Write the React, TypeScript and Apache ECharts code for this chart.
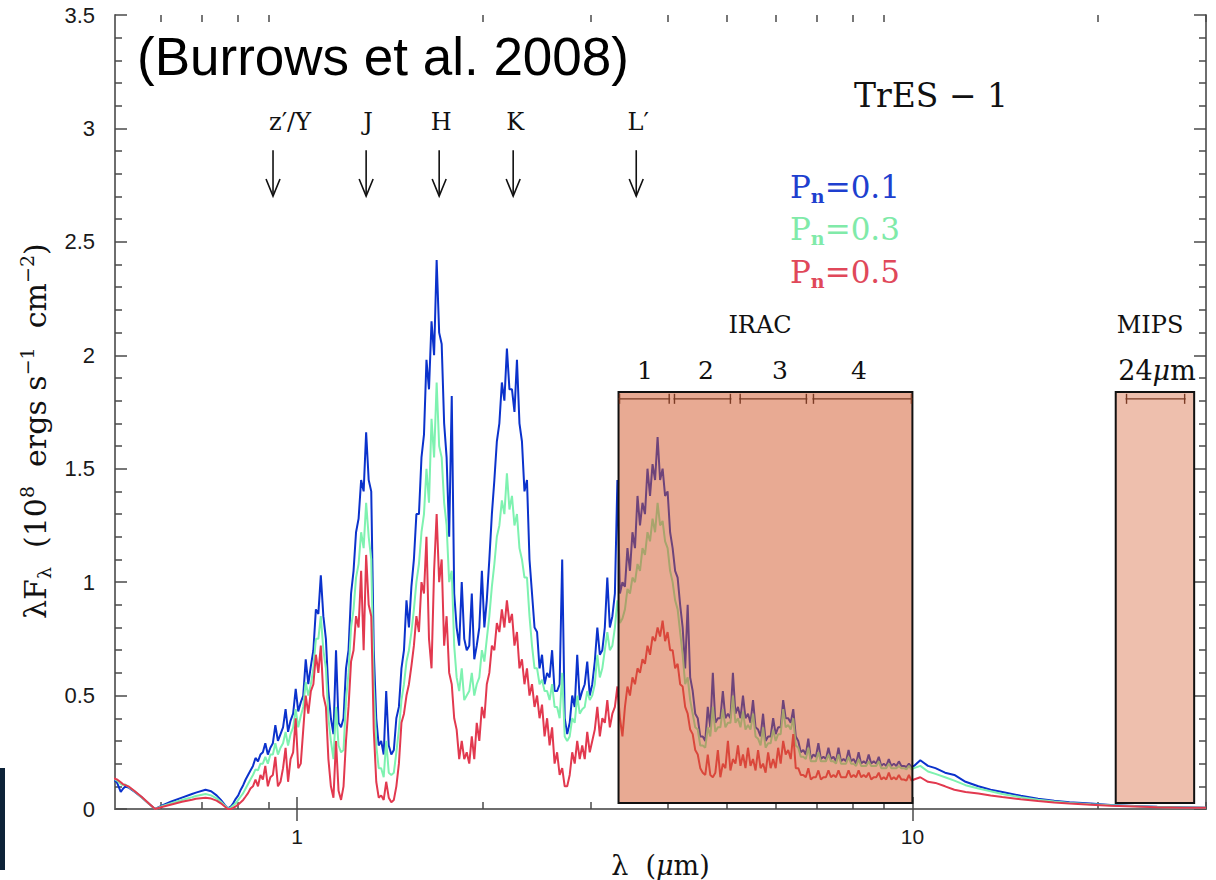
import React, { useEffect, useRef } from "react";
import * as echarts from "echarts";

// ---------------- data ----------------
// wavelength samples in micrometres
const wavelengthUm = [
  0.5, 0.51, 0.517, 0.521, 0.526, 0.532, 0.545, 0.56, 0.575, 0.588,
  0.605, 0.625, 0.65, 0.675, 0.685, 0.71, 0.725, 0.74, 0.752, 0.763, 0.772,
  0.780, 0.795, 0.810, 0.825, 0.840, 0.856, 0.872, 0.888, 0.905, 0.922,
  0.940, 0.958, 0.976, 0.995, 1.014, 1.033, 1.053, 1.073, 1.093, 1.114,
  1.135, 1.157, 1.179, 1.201, 1.224, 1.247, 1.271, 1.295, 1.320, 1.345,
  1.370, 1.396, 1.423, 1.450, 1.478, 1.506, 1.534, 1.563, 1.593, 1.623,
  1.654, 1.686, 1.718, 1.750, 1.784, 1.817, 1.852, 1.887, 1.923, 1.959,
  1.997, 2.034, 2.073, 2.112, 2.152, 2.193, 2.235, 2.277, 2.320, 2.364,
  2.409, 2.455, 2.501, 2.549, 2.597, 2.646, 2.697, 2.748, 2.800, 2.853,
  2.907, 2.962, 3.018, 3.076, 3.134, 3.193, 3.254, 3.316, 3.379, 3.443,
  3.508, 3.575, 3.642, 3.711, 3.782, 3.854, 3.927, 4.001, 4.077, 4.154,
  4.233, 4.313, 4.395, 4.479, 4.564, 4.650, 4.739, 4.829, 4.920, 5.014,
  5.109, 5.206, 5.305, 5.405, 5.508, 5.613, 5.719, 5.828, 5.939, 6.051,
  6.166, 6.283, 6.403, 6.524, 6.648, 6.774, 6.903, 7.034, 7.168, 7.304,
  7.443, 7.584, 7.728, 7.875, 8.025, 8.177, 8.333, 8.491, 8.652, 8.817,
  8.984, 9.155, 9.329, 9.506, 9.687, 9.871, 10.06,
  10.3, 10.6, 10.9, 11.3, 11.7, 12.2, 12.8, 13.4, 14.0, 15.0,
  16.0, 17.0, 18.0, 19.5, 21.0, 23.0, 25.0, 27.5, 30.0,
];
// index where the noisy part (0.780 .. 10.06) starts in wavelengthUm
const noisyStart = 21;

// lambda F_lambda (1e8 ergs s^-1 cm^-2), Pn = 0.1 : samples
const fluxPn01 = [
  0.14, 0.115, 0.075, 0.088, 0.1, 0.095, 0.075, 0.05, 0.022, 0.0,
  0.017, 0.033, 0.05, 0.066, 0.072, 0.085, 0.078, 0.06, 0.04, 0.018, 0.003,
  0.01, 0.045, 0.085, 0.13, 0.17, 0.225, 0.24, 0.29, 0.27, 0.37,
  0.33, 0.44, 0.39, 0.53, 0.47, 0.66, 0.63, 0.88, 1.03, 0.75,
  0.40, 0.70, 0.36, 0.62, 0.95, 1.22, 1.45, 1.66, 1.40, 0.40,
  0.30, 0.52, 0.24, 0.40, 0.62, 0.92, 0.98, 1.30, 1.55, 1.98,
  2.15, 2.42, 2.05, 1.55, 1.82, 0.80, 1.00, 0.70, 0.95, 0.72,
  1.05, 0.92, 1.30, 1.62, 1.88, 2.03, 1.85, 1.98, 1.62, 1.45,
  0.95, 0.78, 0.68, 0.60, 0.70, 0.52, 1.10, 0.33, 0.50, 0.68,
  0.52, 0.65, 0.55, 0.80, 0.70, 1.02, 0.85, 1.45, 1.00, 1.15,
  1.22, 1.38, 1.35, 1.50, 1.52, 1.64, 1.50, 1.40, 1.15, 1.02,
  0.80, 0.90, 0.52, 0.40, 0.32, 0.45, 0.60, 0.40, 0.52, 0.42,
  0.60, 0.45, 0.50, 0.42, 0.48, 0.35, 0.42, 0.32, 0.40, 0.36,
  0.48, 0.40, 0.44, 0.30, 0.26, 0.31, 0.24, 0.29, 0.23, 0.27,
  0.23, 0.27, 0.22, 0.26, 0.22, 0.25, 0.21, 0.24, 0.21, 0.23,
  0.20, 0.22, 0.20, 0.21, 0.19, 0.20, 0.19,
  0.215, 0.19, 0.18, 0.16, 0.15, 0.12, 0.10, 0.085, 0.075, 0.058,
  0.045, 0.036, 0.03, 0.024, 0.018, 0.013, 0.01, 0.008, 0.006,
];
// Pn = 0.1 : noise minima between consecutive noisy samples
const dipsPn01 = [
  0.025, 0.06, 0.105, 0.15, 0.19, 0.21, 0.25, 0.24, 0.29, 0.30,
  0.36, 0.34, 0.42, 0.43, 0.50, 0.55, 0.70, 0.86, 0.85, 0.52,
  0.33, 0.38, 0.40, 0.70, 1.05, 1.28, 1.40, 1.45, 0.70, 0.28,
  0.24, 0.28, 0.26, 0.45, 0.70, 0.80, 1.10, 1.30, 1.65, 1.85,
  2.00, 2.10, 1.70, 1.20, 0.95, 0.72, 0.75, 0.72, 0.66, 0.80,
  0.80, 1.10, 1.45, 1.70, 1.80, 1.85, 1.75, 1.70, 1.40, 1.10,
  0.80, 0.62, 0.55, 0.58, 0.52, 0.55, 0.40, 0.38, 0.45, 0.48,
  0.55, 0.50, 0.65, 0.68, 0.80, 0.80, 0.95, 0.95, 0.98, 1.05,
  1.15, 1.25, 1.30, 1.38, 1.45, 1.45, 1.38, 1.22, 1.05, 0.90,
  0.62, 0.58, 0.42, 0.32, 0.30, 0.36, 0.38, 0.40, 0.40, 0.40,
  0.42, 0.40, 0.40, 0.38, 0.36, 0.32, 0.30, 0.32, 0.33, 0.36,
  0.40, 0.38, 0.32, 0.25, 0.24, 0.22, 0.23, 0.22, 0.22, 0.22,
  0.21, 0.21, 0.21, 0.21, 0.20, 0.20, 0.20, 0.20, 0.20, 0.19,
  0.19, 0.19, 0.19, 0.19, 0.185, 0.185,
];

// Pn = 0.3 : samples
const fluxPn03 = [
  0.138, 0.125, 0.11, 0.105, 0.108, 0.098, 0.077, 0.05, 0.022, 0.0,
  0.013, 0.026, 0.04, 0.052, 0.057, 0.066, 0.06, 0.047, 0.032, 0.015, 0.002,
  0.005, 0.025, 0.055, 0.09, 0.13, 0.175, 0.20, 0.23, 0.24, 0.29,
  0.27, 0.34, 0.33, 0.44, 0.41, 0.56, 0.55, 0.75, 0.85, 0.62,
  0.30, 0.45, 0.25, 0.48, 0.80, 1.02, 1.22, 1.35, 1.10, 0.28,
  0.18, 0.30, 0.15, 0.25, 0.48, 0.65, 0.78, 1.00, 1.22, 1.50,
  1.72, 1.88, 1.55, 1.25, 1.05, 0.58, 0.62, 0.50, 0.60, 0.55,
  0.70, 0.75, 0.98, 1.20, 1.36, 1.48, 1.38, 1.30, 1.10, 1.02,
  0.72, 0.62, 0.57, 0.52, 0.55, 0.45, 0.60, 0.30, 0.40, 0.50,
  0.44, 0.52, 0.50, 0.68, 0.62, 0.78, 0.72, 0.92, 0.84, 0.97,
  1.02, 1.08, 1.15, 1.22, 1.28, 1.35, 1.27, 1.15, 1.00, 0.88,
  0.68, 0.58, 0.42, 0.35, 0.28, 0.36, 0.45, 0.36, 0.44, 0.38,
  0.50, 0.40, 0.43, 0.37, 0.42, 0.31, 0.36, 0.29, 0.35, 0.33,
  0.44, 0.37, 0.40, 0.27, 0.23, 0.27, 0.21, 0.25, 0.21, 0.24,
  0.21, 0.24, 0.20, 0.23, 0.20, 0.22, 0.19, 0.21, 0.19, 0.21,
  0.18, 0.20, 0.18, 0.19, 0.18, 0.19, 0.18,
  0.19, 0.165, 0.155, 0.14, 0.125, 0.105, 0.09, 0.078, 0.066, 0.052,
  0.041, 0.033, 0.027, 0.021, 0.016, 0.012, 0.009, 0.007, 0.005,
];
// Pn = 0.3 : noise minima
const dipsPn03 = [
  0.015, 0.04, 0.07, 0.11, 0.15, 0.17, 0.20, 0.20, 0.24, 0.24,
  0.29, 0.28, 0.36, 0.36, 0.45, 0.50, 0.62, 0.75, 0.70, 0.40,
  0.22, 0.28, 0.26, 0.60, 0.88, 1.08, 1.15, 1.20, 0.55, 0.18,
  0.14, 0.16, 0.16, 0.35, 0.55, 0.70, 0.88, 1.08, 1.30, 1.35,
  1.55, 1.60, 1.35, 1.00, 0.72, 0.52, 0.48, 0.52, 0.50, 0.58,
  0.65, 0.85, 1.08, 1.25, 1.30, 1.32, 1.25, 1.15, 1.02, 0.85,
  0.62, 0.55, 0.52, 0.48, 0.45, 0.40, 0.32, 0.32, 0.38, 0.42,
  0.45, 0.48, 0.55, 0.58, 0.70, 0.70, 0.80, 0.82, 0.88, 0.95,
  1.00, 1.05, 1.12, 1.18, 1.22, 1.25, 1.18, 1.05, 0.92, 0.78,
  0.55, 0.48, 0.36, 0.28, 0.27, 0.32, 0.34, 0.36, 0.36, 0.38,
  0.38, 0.36, 0.35, 0.35, 0.32, 0.28, 0.27, 0.29, 0.30, 0.33,
  0.36, 0.35, 0.28, 0.23, 0.22, 0.21, 0.21, 0.21, 0.21, 0.21,
  0.20, 0.20, 0.20, 0.20, 0.19, 0.19, 0.19, 0.19, 0.19, 0.18,
  0.18, 0.18, 0.18, 0.18, 0.175, 0.175,
];

// Pn = 0.5 : samples
const fluxPn05 = [
  0.137, 0.13, 0.118, 0.11, 0.105, 0.1, 0.078, 0.052, 0.023, 0.0,
  0.01, 0.02, 0.032, 0.041, 0.045, 0.05, 0.046, 0.037, 0.025, 0.011, 0.0,
  0.0, 0.012, 0.03, 0.055, 0.09, 0.13, 0.15, 0.19, 0.14, 0.23,
  0.12, 0.27, 0.22, 0.40, 0.20, 0.50, 0.52, 0.68, 0.72, 0.45,
  0.10, 0.30, 0.04, 0.30, 0.65, 0.85, 1.05, 1.12, 0.85, 0.12,
  0.06, 0.12, 0.03, 0.10, 0.38, 0.50, 0.63, 0.85, 1.00, 1.20,
  0.62, 1.30, 1.10, 0.85, 0.55, 0.35, 0.30, 0.25, 0.32, 0.38,
  0.45, 0.55, 0.72, 0.82, 0.88, 0.92, 0.86, 0.78, 0.66, 0.62,
  0.55, 0.50, 0.46, 0.40, 0.36, 0.25, 0.18, 0.10, 0.25, 0.30,
  0.28, 0.34, 0.30, 0.45, 0.40, 0.48, 0.42, 0.54, 0.32, 0.54,
  0.58, 0.62, 0.66, 0.72, 0.76, 0.80, 0.83, 0.78, 0.70, 0.64,
  0.54, 0.42, 0.33, 0.24, 0.16, 0.24, 0.14, 0.26, 0.20, 0.30,
  0.22, 0.28, 0.24, 0.27, 0.22, 0.26, 0.20, 0.25, 0.22, 0.27,
  0.30, 0.26, 0.33, 0.18, 0.15, 0.18, 0.14, 0.17, 0.14, 0.17,
  0.15, 0.17, 0.14, 0.17, 0.15, 0.17, 0.15, 0.16, 0.14, 0.16,
  0.14, 0.16, 0.14, 0.15, 0.13, 0.15, 0.13,
  0.14, 0.12, 0.115, 0.10, 0.085, 0.075, 0.068, 0.06, 0.053, 0.043,
  0.035, 0.029, 0.024, 0.019, 0.014, 0.011, 0.008, 0.006, 0.005,
];
// Pn = 0.5 : noise minima
const dipsPn05 = [
  0.005, 0.02, 0.04, 0.07, 0.10, 0.10, 0.13, 0.10, 0.15, 0.10,
  0.18, 0.12, 0.25, 0.18, 0.35, 0.42, 0.55, 0.60, 0.50, 0.22,
  0.05, 0.08, 0.10, 0.45, 0.70, 0.80, 0.70, 0.90, 0.35, 0.05,
  0.04, 0.05, 0.04, 0.20, 0.42, 0.55, 0.72, 0.78, 0.95, 0.75,
  1.05, 1.00, 0.72, 0.60, 0.40, 0.22, 0.22, 0.20, 0.22, 0.30,
  0.40, 0.60, 0.70, 0.78, 0.80, 0.82, 0.72, 0.62, 0.55, 0.50,
  0.45, 0.40, 0.32, 0.28, 0.20, 0.15, 0.10, 0.15, 0.20, 0.22,
  0.22, 0.25, 0.35, 0.32, 0.38, 0.36, 0.45, 0.40, 0.45, 0.50,
  0.55, 0.60, 0.64, 0.68, 0.74, 0.76, 0.74, 0.70, 0.62, 0.55,
  0.45, 0.35, 0.26, 0.18, 0.15, 0.15, 0.16, 0.14, 0.18, 0.17,
  0.20, 0.19, 0.18, 0.19, 0.17, 0.18, 0.16, 0.18, 0.18, 0.20,
  0.24, 0.22, 0.18, 0.15, 0.14, 0.13, 0.14, 0.13, 0.14, 0.14,
  0.14, 0.14, 0.14, 0.14, 0.14, 0.14, 0.14, 0.13, 0.14, 0.13,
  0.13, 0.13, 0.13, 0.13, 0.125, 0.125,
];

const seriesNames = ["Pn=0.1", "Pn=0.3", "Pn=0.5"];
const legendValues = ["0.1", "0.3", "0.5"];

// photometric bands marked with arrows
const bandNames = ["z′/Y", "J", "H", "K", "L′"];
const bandWavelengths = [0.914, 1.295, 1.702, 2.245, 3.558];

// Spitzer filter boxes (micrometres) and their flux extent
const iracRange = [3.33, 10.0];
const mipsRange = [21.4, 28.7];
const filterBoxFlux = [0.026, 1.838];
// IRAC channel bars and MIPS 24 micron bar
const iracChannels = [
  [3.33, 4.04],
  [4.09, 5.08],
  [5.23, 6.75],
  [6.88, 10.0],
];
const mipsChannel = [22.2, 27.8];
const iracChannelLabels = ["1", "2", "3", "4"];

// axis ticks
const xMajorTicks = [1, 10];
const xMinorTicks = [0.6, 0.7, 0.8, 0.9, 2, 3, 4, 5, 6, 7, 8, 9, 20, 30];

// ---------------- styling ----------------
const serif = "'DejaVu Serif', 'Liberation Serif', serif";
const sans = "'Liberation Sans', Arial, sans-serif";
const lineColors = ["#0b32cc", "#7ef2b0", "#e2394f"];
const textColors = ["#1e3fcf", "#80eaa9", "#e0485a"];
const frameColor = "#6e6e6e";
const tickColor = "#4a4a4a";

function buildLine(vals: number[], dips: number[]) {
  const out: number[][] = [];
  for (let i = 0; i < wavelengthUm.length; i++) {
    out.push([wavelengthUm[i], vals[i]]);
    const k = i - noisyStart;
    if (k >= 0 && k < dips.length) {
      out.push([Math.sqrt(wavelengthUm[i] * wavelengthUm[i + 1]), dips[k]]);
    }
  }
  return out;
}

function buildOption() {
  const xCommon = {
    type: "log",
    logBase: 10,
    min: 0.506,
    max: 30,
    splitLine: { show: false },
    minorSplitLine: { show: false },
  };
  const yCommon = {
    type: "value",
    min: 0,
    max: 3.5,
    interval: 0.5,
    splitLine: { show: false },
  };

  const sets = [
    [fluxPn01, dipsPn01],
    [fluxPn03, dipsPn03],
    [fluxPn05, dipsPn05],
  ];
  const lineSeries = sets.map(([vals, dips], s) => ({
    name: seriesNames[s],
    type: "line",
    xAxisIndex: 0,
    yAxisIndex: 0,
    z: 2 + s,
    showSymbol: false,
    symbol: "none",
    silent: true,
    data: buildLine(vals, dips),
    lineStyle: { color: lineColors[s], width: 2 },
  }));

  const boxSeries = {
    type: "custom",
    xAxisIndex: 0,
    yAxisIndex: 0,
    z: 10,
    silent: true,
    clip: false,
    data: [
      [iracRange[0], iracRange[1], filterBoxFlux[0], filterBoxFlux[1]],
      [mipsRange[0], mipsRange[1], filterBoxFlux[0], filterBoxFlux[1]],
    ],
    encode: { x: [0, 1], y: [2, 3] },
    renderItem: (params: any, api: any) => {
      const a = api.coord([api.value(0), api.value(3)]);
      const b = api.coord([api.value(1), api.value(2)]);
      return {
        type: "rect",
        shape: { x: a[0], y: a[1], width: b[0] - a[0], height: b[1] - a[1] },
        style: {
          fill: params.dataIndex === 0 ? "rgba(210,86,40,0.5)" : "rgba(210,86,40,0.38)",
          stroke: "#111",
          lineWidth: 2,
        },
      };
    },
  };

  const channelData = [...iracChannels, mipsChannel];
  const channelSeries = {
    type: "custom",
    xAxisIndex: 0,
    yAxisIndex: 0,
    z: 11,
    silent: true,
    clip: false,
    data: channelData.map((c) => [c[0], c[1]]),
    encode: { x: [0, 1] },
    renderItem: (params: any, api: any) => {
      const yVal = 1.808;
      const a = api.coord([api.value(0), yVal]);
      const b = api.coord([api.value(1), yVal]);
      const st = { stroke: "#7a3b25", lineWidth: 1.4 };
      return {
        type: "group",
        children: [
          { type: "line", shape: { x1: a[0], y1: a[1], x2: b[0], y2: b[1] }, style: st },
          { type: "line", shape: { x1: a[0] + 1, y1: a[1] - 5, x2: a[0] + 1, y2: a[1] + 5 }, style: st },
          { type: "line", shape: { x1: b[0] - 1, y1: b[1] - 5, x2: b[0] - 1, y2: b[1] + 5 }, style: st },
        ],
      };
    },
  };

  const arrowSeries = {
    type: "custom",
    xAxisIndex: 0,
    yAxisIndex: 0,
    z: 11,
    silent: true,
    clip: false,
    data: bandWavelengths.map((w, i) => [w, i]),
    encode: { x: 0 },
    renderItem: (params: any, api: any) => {
      const w = api.value(0);
      const idx = params.dataIndex;
      const top = api.coord([w, 2.904]);
      const bot = api.coord([w, 2.702]);
      const lab = api.coord([w, 3.028]);
      const x = top[0];
      const dx = idx === 0 ? 17 : 2;
      const st = { stroke: "#111", lineWidth: 1.6, fill: null };
      return {
        type: "group",
        children: [
          { type: "line", shape: { x1: x, y1: top[1], x2: x, y2: bot[1] }, style: st },
          {
            type: "polyline",
            shape: { points: [[x - 7, bot[1] - 17], [x, bot[1]], [x + 7, bot[1] - 17]] },
            style: st,
          },
          {
            type: "text",
            x: x + dx,
            y: lab[1],
            style: {
              text: bandNames[idx],
              fontFamily: serif,
              fontSize: 24,
              fill: "#111",
              align: "center",
              verticalAlign: "middle",
            },
          },
        ],
      };
    },
  };

  const graphicTexts: any[] = [
    {
      type: "text",
      x: 137,
      y: 56,
      style: {
        text: "(Burrows et al. 2008)",
        fontFamily: sans,
        fontSize: 53,
        fill: "#000",
        align: "left",
        verticalAlign: "middle",
      },
    },
    {
      type: "text",
      x: 931,
      y: 95,
      style: {
        text: "TrES − 1",
        fontFamily: serif,
        fontSize: 33,
        fill: "#111",
        align: "center",
        verticalAlign: "middle",
      },
    },
    {
      type: "text",
      x: 760,
      y: 325,
      style: { text: "IRAC", fontFamily: serif, fontSize: 24, fill: "#111", align: "center", verticalAlign: "middle" },
    },
    {
      type: "text",
      x: 1150,
      y: 325,
      style: { text: "MIPS", fontFamily: serif, fontSize: 24, fill: "#111", align: "center", verticalAlign: "middle" },
    },
    {
      type: "text",
      x: 1157,
      y: 370,
      style: {
        text: "{a|24}{i|μ}{a|m}",
        fill: "#111",
        align: "center",
        verticalAlign: "middle",
        rich: {
          a: { fontFamily: serif, fontSize: 27, fill: "#111" },
          i: { fontFamily: serif, fontSize: 27, fontStyle: "italic", fill: "#111" },
        },
      },
    },
    { type: "rect", shape: { x: 0, y: 768, width: 5, height: 102 }, style: { fill: "#0d2238" } },
  ];
  const channelLabelX = [645, 706, 780, 859];
  iracChannelLabels.forEach((t, i) => {
    graphicTexts.push({
      type: "text",
      x: channelLabelX[i],
      y: 370,
      style: { text: t, fontFamily: serif, fontSize: 25, fill: "#111", align: "center", verticalAlign: "middle" },
    });
  });
  const legendY = [187, 229, 272];
  legendValues.forEach((v, i) => {
    graphicTexts.push({
      type: "text",
      x: 790,
      y: legendY[i],
      style: {
        text: `{a|P}{s|n}{a|=${v}}`,
        align: "left",
        verticalAlign: "middle",
        rich: {
          a: { fontFamily: serif, fontSize: 31, fill: textColors[i], lineHeight: 36 },
          s: {
            fontFamily: serif,
            fontSize: 19,
            fontWeight: "bold",
            fill: textColors[i],
            lineHeight: 19,
            verticalAlign: "bottom",
          },
        },
      },
    });
  });

  return {
    animation: false,
    backgroundColor: "#ffffff",
    grid: [
      { left: 115, right: 10, top: 15, bottom: 71, outerBoundsMode: "none", containLabel: false },
      { left: 115, right: 10, top: 15, bottom: 71, outerBoundsMode: "none", containLabel: false },
    ],
    xAxis: [
      {
        ...xCommon,
        gridIndex: 0,
        position: "bottom",
        axisLine: { show: true, lineStyle: { color: frameColor, width: 2 } },
        axisTick: { show: true, inside: true, length: 12, customValues: xMajorTicks, lineStyle: { color: tickColor, width: 1.5 } },
        axisLabel: { show: true, customValues: xMajorTicks, margin: 17, fontFamily: sans, fontSize: 21, color: "#1a1a1a" },
        name: "{a|λ  (}{i|μ}{a|m)}",
        nameLocation: "middle",
        nameGap: 36,
        nameTextStyle: {
          rich: {
            a: { fontFamily: serif, fontSize: 27, color: "#111", lineHeight: 30 },
            i: { fontFamily: serif, fontSize: 27, fontStyle: "italic", color: "#111", lineHeight: 30 },
          },
        },
      },
      {
        ...xCommon,
        gridIndex: 0,
        position: "top",
        axisLine: { show: true, lineStyle: { color: frameColor, width: 2 } },
        axisTick: { show: true, inside: true, length: 12, customValues: xMajorTicks, lineStyle: { color: tickColor, width: 1.5 } },
        axisLabel: { show: false },
      },
      {
        ...xCommon,
        gridIndex: 1,
        position: "bottom",
        axisLine: { show: false },
        axisTick: { show: true, inside: true, length: 7, customValues: xMinorTicks, lineStyle: { color: tickColor, width: 1.5 } },
        axisLabel: { show: false },
      },
      {
        ...xCommon,
        gridIndex: 1,
        position: "top",
        axisLine: { show: false },
        axisTick: { show: true, inside: true, length: 7, customValues: xMinorTicks, lineStyle: { color: tickColor, width: 1.5 } },
        axisLabel: { show: false },
      },
    ],
    yAxis: [
      {
        ...yCommon,
        gridIndex: 0,
        position: "left",
        axisLine: { show: true, lineStyle: { color: frameColor, width: 2 } },
        axisTick: { show: true, inside: true, length: 12, lineStyle: { color: tickColor, width: 1.5 } },
        minorTick: { show: true, splitNumber: 5, length: 7, lineStyle: { color: tickColor, width: 1.5 } },
        minorSplitLine: { show: false },
        axisLabel: { show: true, margin: 20, fontFamily: sans, fontSize: 22, color: "#1a1a1a" },
        name: "{a|λF}{s|λ}{a|  (10}{p|8}{a|  ergs s}{p|−1}{a|  cm}{p|−2}{a|)}{a|    }",
        nameLocation: "middle",
        nameRotate: 90,
        nameGap: 58,
        nameTextStyle: {
          rich: {
            a: { fontFamily: serif, fontSize: 30, color: "#111", lineHeight: 36 },
            s: { fontFamily: serif, fontSize: 19, color: "#111", lineHeight: 19, verticalAlign: "bottom" },
            p: { fontFamily: serif, fontSize: 19, color: "#111", lineHeight: 19, verticalAlign: "top" },
          },
        },
      },
      {
        ...yCommon,
        gridIndex: 0,
        position: "right",
        axisLine: { show: true, lineStyle: { color: frameColor, width: 2 } },
        axisTick: { show: true, inside: true, length: 12, lineStyle: { color: tickColor, width: 1.5 } },
        minorTick: { show: true, splitNumber: 5, length: 7, lineStyle: { color: tickColor, width: 1.5 } },
        minorSplitLine: { show: false },
        axisLabel: { show: false },
      },
      {
        ...yCommon,
        gridIndex: 1,
        show: false,
      },
    ],
    series: [...lineSeries, boxSeries, channelSeries, arrowSeries],
    graphic: { elements: graphicTexts },
  };
}

export default function App() {
  const ref = useRef<HTMLDivElement>(null);
  useEffect(() => {
    if (!ref.current) return;
    const chart = echarts.init(ref.current, null, { renderer: "svg" });
    chart.setOption(buildOption() as any);
    return () => chart.dispose();
  }, []);
  return (
    <div
      ref={ref}
      style={{ position: "fixed", left: 0, top: 0, width: 1216, height: 880, background: "#fff" }}
    />
  );
}
